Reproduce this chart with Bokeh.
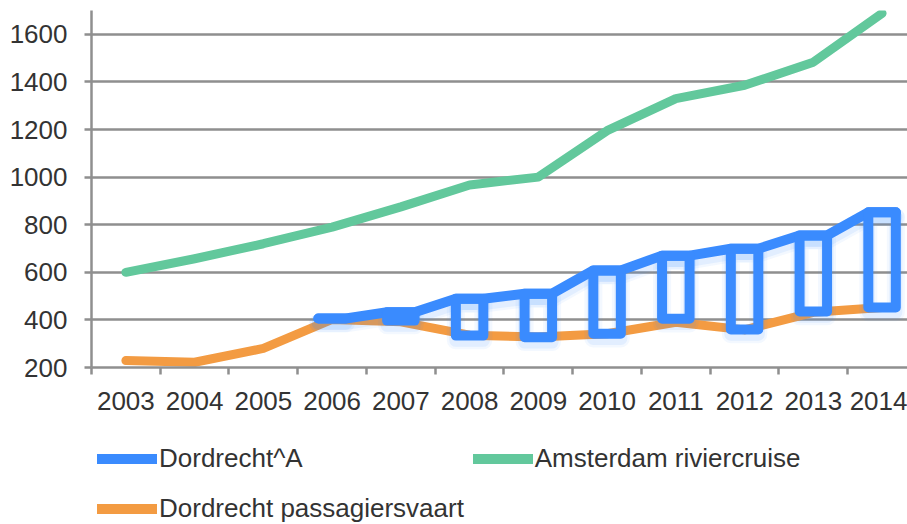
from bokeh.plotting import figure
from bokeh.layouts import column
from bokeh.models import Range1d, FixedTicker, Legend, LegendItem
from bokeh.embed import file_html
from bokeh.resources import INLINE

years = ["2003", "2004", "2005", "2006", "2007", "2008", "2009", "2010", "2011", "2012", "2013", "2014"]
amsterdam = [600, 657, 720, 790, 875, 967, 1000, 1195, 1330, 1386, 1483, 1688]
passagiersvaart = [229, 222, 280, 402, 392, 336, 328, 342, 390, 358, 432, 452]
dordrecht_years = ["2006", "2007", "2008", "2009", "2010", "2011", "2012", "2013", "2014"]
dordrecht_high = [406, 432, 489, 510, 608, 670, 699, 755, 852]
dordrecht_low = [406, 397, 334, 327, 342, 405, 360, 435, 452]
y_ticks = [200, 400, 600, 800, 1000, 1200, 1400, 1600]
series_names = ["Dordrecht^A", "Amsterdam riviercruise", "Dordrecht passagiersvaart"]

BLUE = "#3a8bfe"
GREEN = "#62c89c"
ORANGE = "#f39b42"
GRID = "#8f8f8f"
TEXT = "#333333"
FONT = "Liberation Sans"

xi = list(range(len(years)))
bx = [years.index(y) for y in dordrecht_years]
half = 0.2

p = figure(width=907, height=430, output_backend="svg", toolbar_location=None,
           x_range=Range1d(-0.5, 11.37), y_range=Range1d(200, 1700),
           min_border_left=91, min_border_top=10, min_border_right=0, min_border_bottom=63)
p.outline_line_color = None
p.background_fill_color = "white"
p.border_fill_color = "white"

# axes
p.xaxis.ticker = FixedTicker(ticks=xi, minor_ticks=[i - 0.5 for i in range(len(years) + 1)])
p.xaxis.major_label_overrides = {i: y for i, y in enumerate(years)}
p.xaxis.major_tick_out = 0
p.xaxis.major_tick_in = 0
p.xaxis.minor_tick_out = 7
p.xaxis.minor_tick_in = 0
p.xaxis.minor_tick_line_color = GRID
p.xaxis.minor_tick_line_width = 2.5
p.xaxis.major_label_standoff = 17
p.yaxis.ticker = FixedTicker(ticks=y_ticks)
p.yaxis.major_tick_out = 7
p.yaxis.major_tick_in = 0
p.yaxis.minor_tick_line_color = None
p.yaxis.major_label_standoff = 17
for ax in (p.xaxis, p.yaxis):
    ax.axis_line_color = GRID
    ax.axis_line_width = 2.5
    ax.major_tick_line_width = 2.5
    ax.major_label_text_font = FONT
    ax.major_label_text_font_size = "26px"
    ax.major_label_text_color = TEXT
p.xaxis.major_tick_line_color = None
p.yaxis.major_tick_line_color = GRID
p.xgrid.grid_line_color = None
p.ygrid.ticker = FixedTicker(ticks=y_ticks)
p.ygrid.grid_line_color = GRID
p.ygrid.grid_line_width = 2.5

# series
p.line(xi, amsterdam, line_color=GREEN, line_width=9, line_cap="round", line_join="round")
p.line(xi, passagiersvaart, line_color=ORANGE, line_width=9, line_cap="round", line_join="round")

path_x, path_y = [], []
for i, h in zip(bx, dordrecht_high):
    path_x += [i - half, i + half]
    path_y += [h, h]
lefts = [i - half for i in bx]
rights = [i + half for i in bx]

# soft drop shadow under the blue series (offset a few pixels downward)
shadow = 20
for w, a in ((18, 0.06), (13, 0.09)):
    p.line(path_x, [v - shadow for v in path_y], line_color=BLUE, line_alpha=a, line_width=w,
           line_cap="round", line_join="round")
    p.quad(left=lefts, right=rights, bottom=[v - shadow for v in dordrecht_low],
           top=[v - shadow for v in dordrecht_high], fill_color=None,
           line_color=BLUE, line_alpha=a, line_width=w, line_join="round")

p.line(path_x, path_y, line_color=BLUE, line_width=10, line_cap="round", line_join="round")
p.quad(left=lefts, right=rights, bottom=dordrecht_low, top=dordrecht_high,
       fill_color=None, line_color=BLUE, line_width=10, line_join="round")

# legend area (separate strip below the chart)
q = figure(width=907, height=94, output_backend="svg", toolbar_location=None,
           x_range=Range1d(0, 1), y_range=Range1d(0, 1),
           min_border_left=0, min_border_right=0, min_border_top=0, min_border_bottom=0)
q.axis.visible = False
q.grid.grid_line_color = None
q.outline_line_color = None
q.border_fill_color = "white"
# off-range proxies: only their legend glyphs are visible
lb = q.line([-10, -9], [-10, -10], line_color=BLUE, line_width=10, line_cap="round")
lg = q.line([-10, -9], [-10, -10], line_color=GREEN, line_width=10, line_cap="round")
lo = q.line([-10, -9], [-10, -10], line_color=ORANGE, line_width=10, line_cap="round")

common = dict(label_text_font=FONT, label_text_font_size="26px", label_text_color=TEXT,
              glyph_width=60, glyph_height=31, label_standoff=2, border_line_color=None,
              background_fill_alpha=0, padding=0, margin=0, orientation="horizontal")
leg1 = Legend(items=[LegendItem(label=series_names[0], renderers=[lb]),
                     LegendItem(label=series_names[1], renderers=[lg])],
              spacing=170, location=(6, 50), **common)
leg2 = Legend(items=[LegendItem(label=series_names[2], renderers=[lo])],
              location=(6, 0), **common)
q.add_layout(leg1)
q.add_layout(leg2)

layout = column(p, q, spacing=0)
open("out.html", "w").write(file_html(layout, INLINE))
